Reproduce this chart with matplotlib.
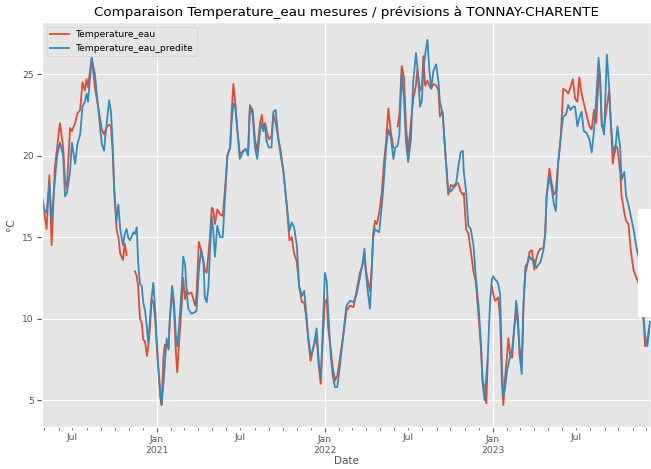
import numpy as np
import pandas as pd
import matplotlib
matplotlib.use("Agg")
import matplotlib.pyplot as plt
import matplotlib.dates as mdates
from matplotlib.patches import Rectangle

nan = np.nan

# dates (x values)
dates_2020 = ["2020-04-26", "2020-05-01", "2020-05-06", "2020-05-12", "2020-05-17", "2020-05-24",
              "2020-05-29", "2020-06-04", "2020-06-11", "2020-06-15", "2020-06-19", "2020-06-26",
              "2020-06-30", "2020-07-07", "2020-07-12", "2020-07-18", "2020-07-23", "2020-07-28",
              "2020-08-01", "2020-08-04", "2020-08-12", "2020-08-19", "2020-08-26", "2020-09-03",
              "2020-09-08", "2020-09-10", "2020-09-15", "2020-09-19", "2020-09-23", "2020-09-27",
              "2020-09-30", "2020-10-05", "2020-10-09", "2020-10-13", "2020-10-19", "2020-10-23",
              "2020-10-27", "2020-10-30", "2020-11-03", "2020-11-11", "2020-11-14", "2020-11-18",
              "2020-11-21", "2020-11-25", "2020-11-29", "2020-12-02", "2020-12-06", "2020-12-10",
              "2020-12-13", "2020-12-17", "2020-12-20", "2020-12-24", "2020-12-28", "2020-12-31"]
mesure_2020 = [17.5, 16.5, 15.5, 18.8, 14.5, 19.3, 20.5, 22.0, 20.5, 18.5, 18.0, 21.7,
               21.5, 22.0, 22.6, 22.8, 24.5, 24.0, 24.7, 24.2, 26.0, 24.2, 23.0, 21.6,
               21.3, 21.5, 21.8, 21.9, 21.8, 20.0, 17.8, 15.5, 15.0, 14.0, 13.6, 14.6,
               13.9, nan, nan, nan, 12.9, 12.6, 12.0, 10.0, 9.7, 8.7, 8.6, 7.7,
               8.3, 9.5, 11.2, 11.0, 10.0, 8.5]
predit_2020 = [17.5, 16.7, 16.5, 18.3, 16.0, 18.5, 20.0, 20.8, 20.0, 17.5, 17.7, 19.0,
               20.8, 19.5, 20.7, 21.3, 23.0, 23.3, 23.8, 23.3, 26.0, 25.0, 23.0, 20.7,
               20.3, 21.0, 22.3, 23.4, 22.7, 20.5, 18.0, 16.0, 17.0, 15.5, 14.5, 15.2,
               15.5, 15.0, 14.8, 15.3, 15.2, 15.6, 13.5, 12.1, 12.0, 11.0, 10.5, 9.5,
               8.5, 10.0, 11.2, 12.2, 10.5, 9.0]

dates_2021 = ["2021-01-04", "2021-01-08", "2021-01-11", "2021-01-15", "2021-01-18", "2021-01-22",
              "2021-01-26", "2021-01-29", "2021-02-03", "2021-02-07", "2021-02-11", "2021-02-14",
              "2021-02-18", "2021-02-24", "2021-02-27", "2021-03-03", "2021-03-07", "2021-03-10",
              "2021-03-17", "2021-03-25", "2021-03-28", "2021-04-02", "2021-04-07", "2021-04-12",
              "2021-04-15", "2021-04-19", "2021-04-23", "2021-04-26", "2021-04-30", "2021-05-03",
              "2021-05-07", "2021-05-12", "2021-05-18", "2021-05-24", "2021-05-29", "2021-06-03",
              "2021-06-09", "2021-06-12", "2021-06-16", "2021-06-20", "2021-06-25", "2021-06-30",
              "2021-07-08", "2021-07-13", "2021-07-18", "2021-07-22", "2021-07-28", "2021-08-02",
              "2021-08-07", "2021-08-13", "2021-08-17", "2021-08-20", "2021-08-24", "2021-08-27",
              "2021-09-01", "2021-09-07", "2021-09-11", "2021-09-16", "2021-09-22", "2021-09-27",
              "2021-10-03", "2021-10-10", "2021-10-16", "2021-10-21", "2021-10-26", "2021-11-01",
              "2021-11-06", "2021-11-12", "2021-11-17", "2021-11-21", "2021-11-26", "2021-12-01",
              "2021-12-05", "2021-12-10", "2021-12-14", "2021-12-19", "2021-12-23", "2021-12-27"]
mesure_2021 = [6.8, 5.2, 4.7, 7.6, 8.4, 8.3, 8.2, 10.0, 11.8, 10.5, 8.0, 6.7,
               8.5, 11.0, 12.5, 11.2, 11.8, 11.5, 11.6, 10.8, 11.5, 14.7, 14.2, 13.5,
               13.0, 12.8, 14.0, 15.0, 16.8, 16.7, 15.8, 16.7, 16.4, 16.3, 18.0, 20.0,
               20.5, 22.5, 24.4, 23.3, 21.5, 20.1, 20.3, 20.4, 20.1, 23.1, 22.8, 21.0,
               20.3, 22.0, 22.5, 21.7, 22.0, 21.6, 21.0, 21.2, 22.5, 22.0, 21.0, 20.3,
               19.0, 17.0, 14.8, 15.0, 14.0, 13.5, 12.0, 11.0, 11.0, 10.2, 8.7, 7.4,
               8.0, 8.5, 8.9, 7.0, 6.0, 8.5]
predit_2021 = [7.0, 5.6, 4.7, 6.0, 7.2, 8.8, 8.1, 10.0, 12.0, 11.0, 9.0, 8.3,
               9.5, 12.0, 13.8, 13.3, 11.5, 10.6, 10.3, 10.4, 10.5, 13.0, 14.2, 13.5,
               11.3, 11.0, 12.0, 14.0, 16.3, 15.5, 13.8, 15.7, 15.0, 15.0, 17.5, 20.0,
               20.5, 22.0, 23.2, 23.0, 21.5, 19.8, 20.3, 20.4, 20.0, 23.0, 22.5, 20.5,
               19.8, 21.5, 22.0, 21.5, 21.8, 20.9, 20.5, 20.5, 22.7, 22.8, 21.0, 20.0,
               19.0, 17.0, 15.4, 15.9, 15.6, 14.5, 12.0, 11.4, 11.7, 10.5, 8.8, 7.8,
               8.0, 8.7, 9.4, 7.2, 6.4, 9.0]

dates_2022 = ["2022-01-01", "2022-01-05", "2022-01-08", "2022-01-14", "2022-01-18", "2022-01-23",
              "2022-01-28", "2022-02-03", "2022-02-10", "2022-02-17", "2022-02-25", "2022-03-04",
              "2022-03-11", "2022-03-18", "2022-03-24", "2022-03-28", "2022-03-31", "2022-04-05",
              "2022-04-09", "2022-04-13", "2022-04-16", "2022-04-20", "2022-04-24", "2022-04-29",
              "2022-05-05", "2022-05-10", "2022-05-14", "2022-05-19", "2022-05-24", "2022-05-30",
              "2022-06-03", "2022-06-08", "2022-06-12", "2022-06-17", "2022-06-22", "2022-06-26",
              "2022-07-01", "2022-07-07", "2022-07-12", "2022-07-18", "2022-07-21", "2022-07-27",
              "2022-07-31", "2022-08-03", "2022-08-07", "2022-08-12", "2022-08-16", "2022-08-20",
              "2022-08-25", "2022-08-31", "2022-09-05", "2022-09-08", "2022-09-14", "2022-09-19",
              "2022-09-23", "2022-09-26", "2022-10-02", "2022-10-07", "2022-10-13", "2022-10-18",
              "2022-10-23", "2022-10-28", "2022-10-30", "2022-11-04", "2022-11-09", "2022-11-14",
              "2022-11-20", "2022-11-25", "2022-12-01", "2022-12-06", "2022-12-10", "2022-12-14",
              "2022-12-18", "2022-12-21", "2022-12-26", "2022-12-30"]
mesure_2022 = [11.0, 11.2, 9.5, 8.0, 7.0, 6.2, 6.5, 7.6, 9.0, 10.5, 10.8, 10.7,
               11.7, 12.8, 13.3, 14.0, 13.0, 12.2, 11.7, 13.2, 15.2, 16.0, 15.8, 16.5,
               17.8, 19.8, 20.8, 22.9, 21.5, 20.5, nan, 21.8, 22.5, 25.5, 24.8, 22.0,
               20.2, 22.0, 23.5, 24.3, 25.3, 24.0, 24.2, 26.1, 24.3, 24.6, 24.3, 24.1,
               24.4, 24.3, 24.0, 22.4, 22.7, 20.5, 19.0, 17.6, 18.2, 18.1, 18.3, 18.3,
               17.8, 17.6, 17.7, 15.5, 15.2, 14.2, 12.9, 12.3, 10.2, 8.3, 6.2, 5.8,
               4.8, 7.5, nan, 12.0]
predit_2022 = [12.8, 12.3, 10.5, 7.7, 6.5, 5.8, 5.8, 7.2, 9.0, 10.8, 11.1, 11.0,
               11.5, 12.5, 13.4, 14.3, 12.8, 11.5, 10.6, 13.0, 15.0, 15.5, 15.4, 15.3,
               17.0, 18.8, 20.5, 21.6, 21.2, 19.8, 20.5, 20.6, 21.3, 25.0, 23.5, 21.0,
               19.6, 21.0, 24.5, 26.3, 25.5, 23.0, 23.4, 25.3, 26.2, 27.1, 25.3, 24.1,
               25.2, 25.6, 24.5, 23.3, 22.6, 20.5, 19.0, 17.8, 17.8, 18.0, 18.2, 19.3,
               20.2, 20.3, 19.0, 17.8, 15.7, 15.5, 14.5, 12.6, 10.8, 8.7, 6.0, 5.0,
               6.5, 7.5, 11.0, 12.4]

dates_2023 = ["2023-01-02", "2023-01-06", "2023-01-10", "2023-01-13", "2023-01-17", "2023-01-21",
              "2023-01-24", "2023-01-28", "2023-02-01", "2023-02-04", "2023-02-08", "2023-02-12",
              "2023-02-17", "2023-02-21", "2023-02-25", "2023-02-28", "2023-03-05", "2023-03-09",
              "2023-03-13", "2023-03-17", "2023-03-22", "2023-03-27", "2023-04-01", "2023-04-05",
              "2023-04-10", "2023-04-15", "2023-04-21", "2023-04-25", "2023-04-28", "2023-05-04",
              "2023-05-09", "2023-05-14", "2023-05-18", "2023-05-23", "2023-05-29", "2023-06-03",
              "2023-06-09", "2023-06-14", "2023-06-19", "2023-06-24", "2023-06-29", "2023-07-04",
              "2023-07-08", "2023-07-13", "2023-07-18", "2023-07-24", "2023-07-30", "2023-08-04",
              "2023-08-09", "2023-08-14", "2023-08-19", "2023-08-22", "2023-08-26", "2023-08-31",
              "2023-09-06", "2023-09-11", "2023-09-14", "2023-09-19", "2023-09-24", "2023-09-29",
              "2023-10-05", "2023-10-08", "2023-10-14", "2023-10-18", "2023-10-23", "2023-10-28",
              "2023-11-03", "2023-11-09", "2023-11-14", "2023-11-20", "2023-11-25", "2023-11-28",
              "2023-12-03", "2023-12-09"]
mesure_2023 = [11.5, 11.1, 11.2, 11.3, 10.0, 6.0, 4.7, 6.5, 7.7, 8.8, 7.7, 7.6,
               9.5, 10.5, 9.5, 8.3, 7.2, 11.0, 12.8, 13.3, 14.1, 14.2, 13.0, 13.6,
               14.1, 14.3, 14.3, 15.2, 17.5, 19.2, 18.3, 17.6, 17.8, 19.5, 21.2, 24.1,
               24.0, 23.8, 24.2, 24.7, 23.5, 23.3, 24.8, 23.8, 23.2, 22.5, 21.8, 21.6,
               22.8, 22.0, 25.0, 25.0, 21.8, 21.7, 23.0, 24.0, 22.5, 19.5, 20.6, 20.5,
               19.0, 17.5, 16.5, 16.0, 15.8, 14.2, 13.0, 12.5, 12.2, 11.0, 9.9, 8.3,
               8.7, 9.8]
predit_2023 = [12.6, 12.4, 12.3, 12.1, 11.5, 7.0, 5.2, 5.8, 6.8, 7.2, 7.7, 8.1,
               9.5, 11.1, 10.0, 7.8, 6.6, 11.0, 13.2, 13.4, 13.8, 13.6, 13.6, 13.1,
               13.3, 13.5, 14.2, 15.2, 17.5, 18.7, 18.0, 17.0, 16.6, 19.5, 21.2, 22.4,
               22.5, 23.1, 22.8, 23.0, 23.0, 21.8, 22.3, 22.7, 21.5, 21.4, 21.0, 20.2,
               21.5, 23.5, 26.0, 25.0, 22.0, 21.3, 26.2, 24.2, 22.2, 20.5, 20.2, 21.8,
               20.5, 18.5, 19.0, 17.5, 17.0, 16.3, 15.5, 14.4, 13.8, 12.0, 10.0, 9.0,
               8.3, 9.8]

dates = pd.to_datetime(dates_2020 + dates_2021 + dates_2022 + dates_2023)
temperature_eau = mesure_2020 + mesure_2021 + mesure_2022 + mesure_2023
temperature_eau_predite = predit_2020 + predit_2021 + predit_2022 + predit_2023

plt.style.use("ggplot")

fig = plt.figure(figsize=(6.51, 4.69), dpi=100)
ax = fig.add_axes([42 / 651, 42 / 469, 609 / 651, 405 / 469])

ax.plot(dates, temperature_eau, color="#E24A33", linewidth=1.3, label="Temperature_eau")
ax.plot(dates, temperature_eau_predite, color="#348ABD", linewidth=1.3, label="Temperature_eau_predite")

ax.set_xlim(pd.Timestamp("2020-04-26"), pd.Timestamp("2023-12-11"))
ax.set_ylim(3.35, 28.2)
ax.set_yticks([5, 10, 15, 20, 25])

# pandas-like date ticks: years as major, months as minor, only Jul labelled
ax.xaxis.set_major_locator(mdates.YearLocator())
ax.xaxis.set_major_formatter(mdates.DateFormatter("%b\n%Y"))
ax.xaxis.set_minor_locator(mdates.MonthLocator())
ax.xaxis.set_minor_formatter(plt.FuncFormatter(
    lambda v, pos: "Jul" if mdates.num2date(v).month == 7 else ""))
ax.tick_params(axis="both", which="both", labelsize=6.6, colors="#555555", pad=2.5)

ax.set_title("Comparaison Temperature_eau mesures / prévisions à TONNAY-CHARENTE",
             fontsize=9.7, pad=4)
ax.set_xlabel("Date", fontsize=7.5, labelpad=1)
ax.set_ylabel("°C", fontsize=7.5)
ax.legend(loc="upper left", fontsize=6.6)

# white block covering the right edge in the source image
fig.patches.append(Rectangle((637.5 / 651, (469 - 317) / 469), 13.5 / 651, 108 / 469,
                             transform=fig.transFigure, facecolor="white",
                             edgecolor="none", zorder=10))

fig.savefig("out.png", dpi=100)
